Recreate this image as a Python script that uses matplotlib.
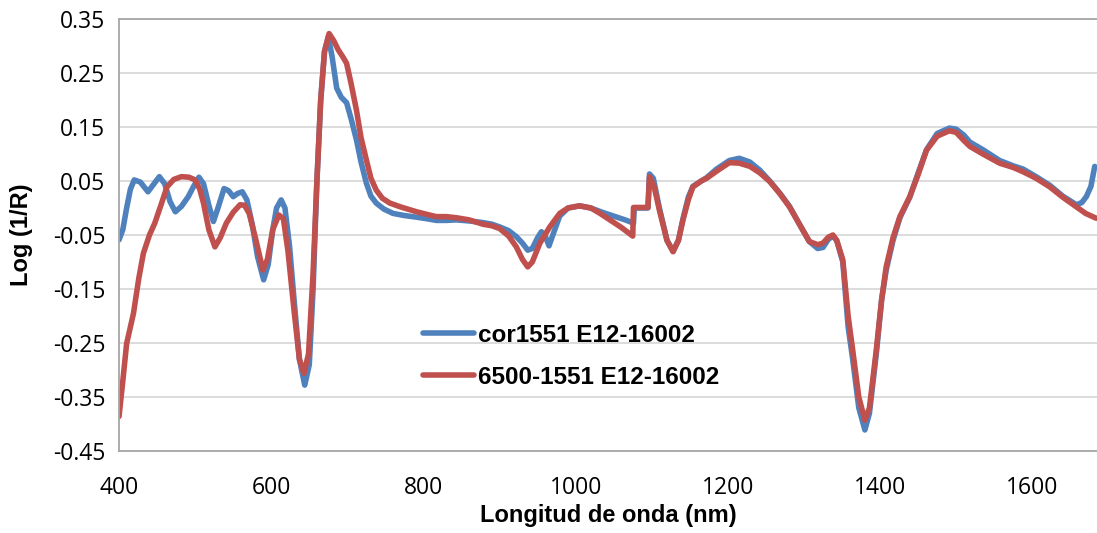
import matplotlib
matplotlib.use("Agg")
import matplotlib.pyplot as plt

# Longitud de onda (nm) y Log(1/R)
wl_cor = [400, 405, 410, 415, 420, 428, 438, 446, 453, 460, 467, 474, 482, 491, 498,
          505, 511, 518, 524, 530, 538, 544, 550, 556, 562, 568, 575, 582, 590, 596,
          602, 607, 613, 618, 624, 630, 637, 644, 650, 655, 660, 665, 670, 675, 680,
          686, 692, 699, 705, 712, 718, 725, 731, 738, 748, 760, 775, 791, 805, 817,
          830, 843, 860, 878, 890, 900, 912, 922, 930, 937, 943, 950, 955, 960, 965,
          970, 979, 990, 1005, 1020, 1035, 1050, 1065, 1076, 1077, 1095, 1097, 1102, 1110, 1120,
          1128, 1135, 1141, 1148, 1154, 1165, 1172, 1185, 1202, 1215, 1229, 1242, 1255, 1268, 1281,
          1294, 1307, 1318, 1325, 1332, 1338, 1343, 1351, 1358, 1364, 1372, 1380, 1386, 1395, 1402,
          1408, 1417, 1426, 1439, 1450, 1461, 1475, 1491, 1500, 1510, 1518, 1535, 1557, 1575, 1588,
          1605, 1623, 1640, 1658, 1665, 1671, 1677, 1682]
cor1551 = [-0.059, -0.040, 0.000, 0.035, 0.052, 0.048, 0.030, 0.045, 0.058, 0.045, 0.012, -0.007, 0.003, 0.021, 0.040,
           0.057, 0.045, 0.005, -0.025, 0.000, 0.036, 0.032, 0.021, 0.027, 0.030, 0.015, -0.030, -0.090, -0.133, -0.105,
           -0.040, 0.000, 0.015, 0.000, -0.070, -0.170, -0.280, -0.328, -0.290, -0.150, 0.050, 0.200, 0.290, 0.317, 0.280,
           0.222, 0.205, 0.195, 0.165, 0.126, 0.085, 0.046, 0.022, 0.009, -0.002, -0.010, -0.014, -0.017, -0.020, -0.023,
           -0.023, -0.022, -0.024, -0.027, -0.030, -0.035, -0.042, -0.053, -0.065, -0.078, -0.075, -0.055, -0.044, -0.052, -0.070,
           -0.050, -0.015, 0.000, 0.004, 0.000, -0.008, -0.015, -0.022, -0.028, 0.000, 0.000, 0.063, 0.055, 0.000, -0.060,
           -0.080, -0.060, -0.020, 0.020, 0.040, 0.050, 0.056, 0.072, 0.088, 0.092, 0.085, 0.070, 0.050, 0.028, 0.003,
           -0.030, -0.062, -0.075, -0.073, -0.058, -0.052, -0.060, -0.100, -0.220, -0.280, -0.370, -0.411, -0.380, -0.270, -0.170,
           -0.115, -0.060, -0.018, 0.020, 0.065, 0.108, 0.138, 0.148, 0.146, 0.135, 0.122, 0.108, 0.088, 0.078, 0.072,
           0.058, 0.042, 0.022, 0.006, 0.010, 0.021, 0.040, 0.077]

wl_6500 = [400, 405, 410, 419, 426, 432, 440, 447, 455, 463, 472, 482, 492, 500, 506,
           511, 518, 526, 533, 541, 550, 559, 565, 571, 580, 589, 595, 602, 610, 616,
           622, 630, 637, 643, 649, 655, 660, 665, 670, 676, 682, 688, 694, 699, 705,
           712, 718, 725, 731, 738, 746, 756, 770, 791, 805, 817, 830, 843, 860, 878,
           890, 900, 912, 922, 930, 937, 943, 953, 966, 979, 990, 1005, 1020, 1032, 1045,
           1060, 1075, 1076, 1095, 1097, 1103, 1110, 1120, 1128, 1135, 1141, 1148, 1154, 1165, 1172,
           1187, 1202, 1215, 1229, 1242, 1255, 1268, 1281, 1294, 1307, 1318, 1325, 1332, 1338, 1343,
           1351, 1358, 1364, 1372, 1380, 1386, 1395, 1402, 1408, 1417, 1426, 1439, 1450, 1461, 1475,
           1491, 1500, 1510, 1518, 1535, 1557, 1575, 1588, 1605, 1623, 1640, 1658, 1670, 1684]
r6500_1551 = [-0.386, -0.320, -0.251, -0.195, -0.130, -0.084, -0.050, -0.028, 0.005, 0.039, 0.053, 0.058, 0.057, 0.052, 0.035,
              0.009, -0.040, -0.072, -0.055, -0.028, -0.008, 0.006, 0.005, -0.010, -0.060, -0.115, -0.095, -0.040, -0.013, -0.020,
              -0.080, -0.190, -0.280, -0.306, -0.270, -0.120, 0.050, 0.200, 0.290, 0.323, 0.310, 0.293, 0.280, 0.268, 0.230,
              0.181, 0.130, 0.089, 0.055, 0.033, 0.018, 0.009, 0.002, -0.007, -0.012, -0.016, -0.016, -0.018, -0.022, -0.030,
              -0.033, -0.038, -0.052, -0.072, -0.095, -0.109, -0.100, -0.065, -0.035, -0.010, 0.000, 0.004, 0.000, -0.010, -0.022,
              -0.036, -0.052, 0.001, 0.001, 0.058, 0.040, -0.004, -0.060, -0.081, -0.060, -0.022, 0.015, 0.039, 0.050, 0.055,
              0.070, 0.084, 0.083, 0.077, 0.065, 0.049, 0.027, 0.002, -0.030, -0.062, -0.068, -0.065, -0.054, -0.050, -0.060,
              -0.096, -0.200, -0.263, -0.350, -0.393, -0.370, -0.263, -0.170, -0.109, -0.055, -0.016, 0.021, 0.062, 0.107, 0.133,
              0.143, 0.140, 0.125, 0.114, 0.100, 0.083, 0.075, 0.067, 0.055, 0.039, 0.020, 0.002, -0.010, -0.019]

x_ticks = [400, 600, 800, 1000, 1200, 1400, 1600]
y_ticks = [-0.45, -0.35, -0.25, -0.15, -0.05, 0.05, 0.15, 0.25, 0.35]

tick_font = ["Open Sans", "DejaVu Sans"]
bold_font = ["Liberation Sans", "DejaVu Sans"]

fig = plt.figure(figsize=(10.97, 5.33), dpi=100)
ax = fig.add_axes([0.1085, 0.1538, 0.8915, 0.8106])

ax.plot(wl_cor, cor1551, color="#4f81bd", lw=4.0, solid_capstyle="round",
        solid_joinstyle="round", label="cor1551 E12-16002")
ax.plot(wl_6500, r6500_1551, color="#c0504d", lw=4.0, solid_capstyle="round",
        solid_joinstyle="round", label="6500-1551 E12-16002")

ax.set_xlim(400, 1685)
ax.set_ylim(-0.45, 0.35)
ax.set_xticks(x_ticks)
ax.set_yticks(y_ticks)
ax.set_yticklabels([f"{v:.2f}" for v in y_ticks], family=tick_font, fontsize=16.5)
ax.set_xticklabels([str(v) for v in x_ticks], family=tick_font, fontsize=16.5)
ax.tick_params(length=0, pad=10)
ax.tick_params(axis="x", pad=18)

ax.grid(axis="y", color="#d9d9d9", lw=1.3)
ax.set_axisbelow(True)
for side in ["left", "bottom", "top"]:
    ax.spines[side].set_color("#a6a6a6")
    ax.spines[side].set_linewidth(1.3)
ax.spines["right"].set_visible(False)

ax.set_xlabel("Longitud de onda (nm)", family=bold_font, fontweight="bold",
              fontsize=17, labelpad=3)
ax.set_ylabel("Log (1/R)", family=bold_font, fontweight="bold", fontsize=17,
              labelpad=14)

leg = ax.legend(loc="upper left", bbox_to_anchor=(0.311, 0.294), frameon=False,
                prop={"family": bold_font, "weight": "bold", "size": 17.5},
                handlelength=2.1, handletextpad=0.15, labelspacing=0.78,
                borderpad=0, borderaxespad=0)

fig.savefig("out.png", dpi=100)
